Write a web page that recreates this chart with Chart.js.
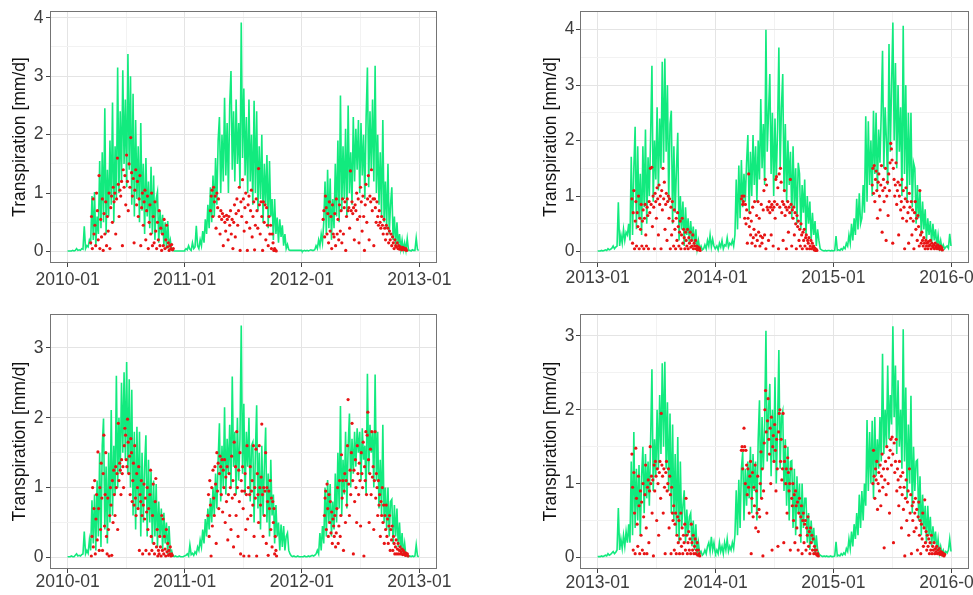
<!DOCTYPE html>
<html>
<head>
<meta charset="utf-8">
<script src="https://cdn.jsdelivr.net/npm/chart.js@4.4.1/dist/chart.umd.min.js"></script>
<style>
  body { margin: 0; background: #fff; }
  #wrap { position: relative; width: 973px; height: 595px; overflow: hidden; background: #fff; }
  canvas { position: absolute; }
</style>
</head>
<body>
<div id="wrap">
  <canvas id="c1" width="486" height="300" style="left:0px;top:0px"></canvas>
  <canvas id="c2" width="487" height="300" style="left:486px;top:0px"></canvas>
  <canvas id="c3" width="486" height="295" style="left:0px;top:300px"></canvas>
  <canvas id="c4" width="487" height="295" style="left:486px;top:300px"></canvas>
</div>
<script>
// x axis: days since 1 Jan of the first year of each panel
var xLabelsA = ['2010-01', '2011-01', '2012-01', '2013-01'];
var xDaysA = [0, 365, 730, 1096];
var xLabelsB = ['2013-01', '2014-01', '2015-01', '2016-01'];
var xDaysB = [0, 365, 730, 1095];

var yMajor1 = [0, 1, 2, 3, 4];
var yMajor2 = [0, 1, 2, 3, 4];
var yMajor3 = [0, 1, 2, 3];
var yMajor4 = [0, 1, 2, 3];

// simulated transpiration (green line), one value every 4 days from 1 Jan of each year
var simStep = 4;
var sim1 = [
  [0.01,0.01,0.01,0.01,0.02,0.01,0.02,0.05,0.02,0.03,0.02,0.05,0.04,0.43,0.05,0.1,0.08,0.2,0.15,0.95,0.2,1.02,0.1,0.6,0.3,1.55,0.4,1.7,0.5,2.45,0.3,1.4,0.6,1.9,0.8,2.55,0.5,1.8,0.9,3.15,1.0,2.4,1.2,3.1,1.5,2.6,1.1,3.38,1.4,3.0,0.8,2.7,0.6,2.25,0.9,1.8,0.5,2.2,0.7,1.5,0.3,1.6,0.6,1.2,0.4,1.45,0.3,1.3,0.2,0.9,1.02,0.15,0.7,0.3,0.63,0.1,0.5,0.05,0.52,0.1,0.2,0.03,0.02,0.01,0.01,0.01,0.01,0.01,0.01,0.01,0.01,0.01],
  [0.02,0.05,0.03,0.1,0.04,0.02,0.15,0.05,0.08,0.44,0.1,0.05,0.2,0.1,0.35,0.15,0.55,0.3,0.8,0.4,1.1,0.5,1.3,0.6,1.6,0.8,1.9,2.3,1.0,2.0,1.2,2.63,1.3,2.2,1.0,2.5,3.09,1.4,2.4,1.2,2.6,1.5,2.2,1.1,3.92,1.6,2.79,1.3,2.3,1.0,2.6,1.2,2.0,0.8,2.58,1.0,2.4,0.7,1.8,0.9,2.0,0.5,1.5,0.8,1.65,0.4,1.55,0.6,0.9,0.2,0.9,0.3,0.58,0.15,0.55,0.25,0.45,0.1,0.3,0.05,0.12,0.03,0.02,0.02,0.02,0.02,0.02,0.02,0.02,0.02,0.02,0.02],
  [0.01,0.01,0.02,0.01,0.02,0.01,0.02,0.03,0.02,0.02,0.03,0.1,0.05,0.2,0.1,0.3,0.15,0.5,1.2,0.3,1.4,0.4,1.25,0.2,0.9,0.4,1.5,0.6,1.9,0.5,2.67,0.7,1.8,0.9,2.1,0.6,2.5,1.0,1.7,0.8,2.3,1.2,2.1,1.4,2.25,1.0,2.2,1.3,2.0,0.9,2.3,3.15,1.1,2.4,1.4,2.6,1.2,3.18,1.0,2.0,0.8,1.7,0.6,2.25,0.5,1.2,0.4,1.5,0.3,0.8,1.1,0.2,0.6,0.1,0.5,0.1,0.3,0.05,0.2,0.03,0.15,0.02,0.22,0.02,0.02,0.01,0.03,0.02,0.02,0.23,0.03,0.02]
];
var sim2 = [
  [0.01,0.01,0.01,0.02,0.01,0.02,0.03,0.02,0.05,0.03,0.04,0.06,0.1,0.05,0.08,0.1,0.89,0.1,0.3,0.15,0.4,0.2,0.35,0.3,0.5,0.2,1.71,0.3,1.5,2.25,0.4,1.9,0.6,1.4,0.3,1.9,0.8,2.2,0.5,1.7,1.0,2.1,3.35,0.9,2.0,1.3,2.6,1.1,2.4,1.5,3.42,1.6,3.48,1.8,3.0,0.9,2.3,2.54,0.5,1.9,0.7,1.5,2.14,0.2,1.0,0.4,0.9,0.1,0.8,0.3,0.6,0.15,0.55,0.2,0.45,0.1,0.4,0.05,0.2,0.05,0.1,0.03,0.05,0.12,0.05,0.2,0.1,0.3,0.08,0.22,0.1,0.05],
  [0.05,0.1,0.03,0.15,0.08,0.2,0.05,0.12,0.1,0.25,0.08,0.15,0.12,0.2,0.1,0.3,1.3,0.4,1.55,0.6,1.65,0.8,1.4,0.9,1.6,2.1,0.7,1.8,1.0,2.1,1.2,1.9,0.9,2.0,1.3,2.75,1.5,2.3,1.2,4.0,1.8,2.5,3.2,1.4,2.5,1.0,2.4,1.3,2.2,3.68,1.5,2.6,3.2,1.1,2.3,0.9,2.0,1.2,1.8,0.6,1.9,0.8,1.5,0.5,1.6,1.4,0.4,1.2,0.7,1.3,0.3,1.0,0.5,0.9,0.2,0.7,0.3,0.55,0.1,0.4,0.2,0.05,0.03,0.02,0.01,0.02,0.01,0.02,0.02,0.01,0.02,0.01],
  [0.01,0.02,0.28,0.02,0.03,0.02,0.05,0.03,0.08,0.05,0.15,0.1,0.3,0.15,0.5,0.2,0.6,0.3,0.95,0.4,1.05,0.5,0.6,1.2,0.7,2.44,0.9,2.35,1.2,2.0,1.0,2.54,1.4,2.5,1.1,2.2,1.6,2.5,3.62,1.5,2.6,2.0,1.2,3.74,1.8,3.0,4.13,2.0,3.4,1.5,3.0,1.8,2.6,1.0,4.07,1.4,3.0,0.9,2.5,1.2,2.5,0.8,1.6,1.5,0.5,1.2,0.6,1.08,0.3,0.9,0.4,0.76,0.2,0.6,0.3,0.55,0.15,0.5,0.2,0.4,0.1,0.3,0.08,0.2,0.05,0.12,0.05,0.08,0.1,0.06,0.32,0.1]
];
var sim3 = [
  [0.01,0.01,0.01,0.02,0.01,0.01,0.03,0.05,0.02,0.03,0.02,0.04,0.05,0.37,0.05,0.1,0.06,0.25,0.1,0.82,0.2,0.9,0.1,1.1,0.3,1.5,0.15,1.6,1.99,0.4,1.3,0.2,1.5,0.5,2.11,0.6,1.6,0.9,2.6,1.0,2.0,1.2,2.5,1.5,2.65,1.4,2.8,1.2,2.55,1.0,2.4,0.6,1.8,0.4,1.87,0.7,1.8,0.3,1.5,0.5,1.3,1.75,0.3,1.4,0.5,1.23,0.2,1.1,0.3,1.05,0.15,0.8,0.3,0.7,0.1,0.64,0.2,0.5,0.05,0.45,0.08,0.1,0.02,0.01,0.02,0.01,0.01,0.02,0.01,0.01,0.01,0.02],
  [0.02,0.03,0.05,0.02,0.18,0.04,0.06,0.03,0.08,0.05,0.15,0.1,0.25,0.15,0.4,0.2,0.55,0.3,0.7,0.4,0.85,0.5,1.0,0.6,1.2,0.7,1.4,1.92,0.8,1.6,1.0,2.15,0.9,1.7,1.2,1.9,1.0,2.59,1.3,1.8,0.9,2.0,1.1,1.7,3.32,1.2,2.2,0.9,1.8,1.3,2.0,0.8,1.6,1.65,0.5,1.5,2.18,0.7,1.5,0.4,1.6,0.6,1.3,1.86,0.5,1.2,0.3,1.4,0.6,0.9,0.2,0.75,0.3,0.5,0.1,0.47,0.15,0.45,0.1,0.3,0.35,0.1,0.05,0.02,0.01,0.02,0.01,0.01,0.02,0.01,0.01,0.01],
  [0.01,0.01,0.02,0.01,0.01,0.02,0.01,0.02,0.03,0.02,0.03,0.05,0.1,0.05,0.35,0.1,0.45,0.2,1.0,0.3,1.11,0.5,1.05,0.3,0.8,0.4,1.2,0.5,1.5,0.7,2.17,0.6,1.4,0.9,1.8,0.7,1.6,2.06,1.0,1.7,1.2,1.8,1.3,1.85,1.5,1.8,1.1,1.85,1.4,1.6,0.9,2.63,1.2,1.9,1.5,1.8,1.0,2.62,1.1,1.8,0.7,1.4,0.6,1.9,0.5,1.0,0.4,1.0,0.3,0.8,0.83,0.2,0.75,0.3,0.7,0.15,0.5,0.1,0.35,0.05,0.2,0.02,0.02,0.01,0.02,0.01,0.02,0.01,0.02,0.18,0.02,0.01]
];
var sim4 = [
  [0.01,0.01,0.01,0.02,0.01,0.02,0.03,0.02,0.05,0.03,0.04,0.06,0.08,0.05,0.07,0.1,0.67,0.1,0.25,0.12,0.3,0.15,0.35,0.2,0.45,0.2,1.3,0.3,1.7,0.4,1.2,0.5,1.25,0.3,1.1,1.5,0.6,1.4,0.8,1.3,0.7,1.6,2.55,0.9,1.6,1.1,2.0,1.2,2.2,1.4,2.63,1.5,2.65,1.2,2.1,0.9,1.95,0.6,1.8,0.5,1.4,0.3,1.63,0.2,1.3,0.4,0.7,0.91,0.2,0.65,0.3,0.55,0.6,0.15,0.5,0.1,0.45,0.05,0.2,0.05,0.08,0.03,0.05,0.1,0.05,0.15,0.2,0.08,0.28,0.1,0.2,0.06],
  [0.05,0.1,0.05,0.2,0.08,0.15,0.05,0.2,0.1,0.25,0.08,0.15,0.1,0.2,0.12,0.3,0.91,0.3,1.05,0.4,1.2,1.43,0.5,1.2,0.7,1.3,0.8,1.5,0.6,1.4,0.9,1.3,0.5,1.6,2.13,0.8,1.9,1.2,1.8,3.07,1.3,2.0,2.35,1.1,2.0,1.3,2.44,1.0,1.8,2.81,1.2,1.9,1.98,0.9,1.6,0.7,1.5,0.5,1.3,1.31,0.4,1.2,0.3,1.1,0.6,1.0,0.2,1.0,0.4,0.8,0.8,0.2,0.6,0.1,0.5,0.2,0.4,0.05,0.3,0.1,0.05,0.03,0.02,0.01,0.02,0.01,0.02,0.01,0.01,0.02,0.01,0.01],
  [0.01,0.02,0.21,0.02,0.03,0.02,0.05,0.03,0.06,0.04,0.12,0.08,0.25,0.12,0.35,0.15,0.45,0.25,0.6,0.3,0.85,0.4,0.9,0.5,1.0,0.7,1.86,0.9,1.7,1.0,1.85,0.8,1.9,1.1,1.6,1.2,1.9,1.3,2.76,1.4,2.0,1.5,2.6,1.6,2.2,1.8,3.13,1.9,2.6,1.4,2.4,1.5,2.0,1.2,3.09,1.3,2.3,0.8,1.8,1.0,2.19,0.6,1.5,0.9,1.3,1.32,0.5,1.1,0.3,0.85,0.4,0.7,0.2,0.7,0.3,0.55,0.15,0.42,0.2,0.35,0.1,0.25,0.06,0.15,0.05,0.1,0.04,0.08,0.06,0.1,0.25,0.08]
];

// measured transpiration (red points): first day of year, spacing in days, values
var obs1 = [
  { start: 72, step: 2.6, v: [0.15,0.6,0.05,0.9,0.3,0.45,0.1,1.0,0.7,0.2,1.3,0.05,0.55,0.25,0.9,0.02,0.65,0.3,0.85,0.1,0.6,0.35,1.0,0.05,0.75,0.95,0.5,1.1,0.85,1.0,0.3,0.9,1.6,1.15,0.6,1.05,0.95,1.2,0.1,1.4,1.1,1.3,0.8,1.65,1.2,0.7,1.5,1.1,1.95,1.35,0.95,1.25,0.15,1.05,1.4,0.8,1.2,0.6,0.9,1.3,0.1,0.75,1.0,0.45,0.85,1.05,0.2,0.7,0.95,0.05,0.5,0.8,0.3,1.0,0.1,0.6,0.15,0.85,0.35,0.05,0.5,0.2,0.7,0.1,0.4,0.02,0.3,0.1,0.55,0.05,0.2,0.45,0.08,0.15,0.02,0.1,0.05,0.12,0.03,0.05] },
  { start: 80, step: 2.5, v: [0.7,0.95,1.05,0.6,1.1,0.85,0.95,0.4,1.0,0.75,0.9,0.6,0.3,0.7,0.55,0.65,0.1,0.6,0.5,0.35,0.62,0.55,0.2,0.6,0.45,0.7,0.3,0.55,0.05,0.5,0.8,0.25,0.65,0.9,0.45,0.7,1.1,0.02,0.85,0.6,1.23,0.9,0.35,0.75,1.0,0.5,0.02,0.8,0.95,0.4,0.7,1.05,0.25,0.6,0.85,0.03,0.45,0.9,0.7,0.4,1.42,0.8,0.3,0.85,0.6,0.02,0.85,0.5,0.8,0.2,0.75,0.45,0.1,0.6,0.3,0.45,0.05,0.3,0.15,0.02,0.05,0.02,0.01] },
  { start: 66, step: 2.43, v: [0.55,0.7,0.25,0.95,0.75,0.3,0.65,0.15,0.85,0.35,0.6,0.05,0.8,0.3,0.25,0.65,0.1,0.9,0.3,0.55,0.2,0.8,0.35,0.7,0.15,0.9,0.3,0.75,0.85,0.02,0.6,0.9,0.7,0.75,0.4,1.38,0.7,0.85,0.65,0.75,0.2,0.8,0.7,1.0,0.55,0.9,0.15,0.6,1.1,0.85,0.35,0.95,0.6,0.02,0.8,1.15,0.5,0.9,1.3,0.2,0.95,0.85,1.4,0.7,0.9,0.1,0.9,0.75,0.5,0.85,0.6,0.45,0.7,0.5,0.4,0.6,0.45,0.3,0.55,0.4,0.2,0.45,0.3,0.4,0.15,0.35,0.2,0.3,0.1,0.25,0.15,0.05,0.2,0.1,0.08,0.15,0.05,0.1,0.04,0.08,0.05,0.03,0.07,0.04,0.06,0.03,0.05,0.02] }
];
var obs2 = [
  { start: 106, step: 2.05, v: [0.95,0.15,0.7,1.1,0.05,0.55,0.9,0.1,0.7,0.45,1.0,0.05,0.6,0.4,0.85,0.1,0.55,0.75,0.05,0.6,0.85,0.3,0.1,0.8,0.65,0.05,0.9,0.7,1.5,0.85,1.52,0.45,1.0,0.8,0.05,1.05,0.9,0.6,1.15,0.95,0.3,1.2,0.85,1.0,0.05,1.1,0.75,1.5,0.95,1.25,0.4,0.85,1.05,0.2,0.9,1.0,0.6,0.95,0.05,0.8,0.3,0.9,0.55,0.1,0.75,0.4,0.05,0.6,0.2,0.7,0.45,0.1,0.35,0.55,0.05,0.3,0.6,0.15,0.4,0.25,0.05,0.35,0.2,0.1,0.4,0.05,0.25,0.15,0.35,0.08,0.2,0.1,0.3,0.05,0.15,0.1,0.2,0.05,0.1,0.03,0.08,0.04,0.06,0.02] },
  { start: 80, step: 2.05, v: [0.95,1.0,0.85,0.9,1.0,0.6,0.85,0.5,0.75,0.15,0.6,1.4,0.45,0.7,0.3,0.55,0.15,0.8,0.25,0.4,0.9,0.1,0.3,0.65,0.2,0.9,0.35,0.6,0.1,0.28,0.85,0.15,0.25,0.75,1.1,0.3,1.3,0.05,1.2,0.8,0.75,0.2,0.9,0.7,0.8,0.3,0.85,0.75,0.1,0.8,0.9,0.6,1.3,1.35,0.85,1.15,0.05,1.4,0.8,1.5,1.25,0.7,0.9,0.2,0.85,1.1,0.65,0.8,0.05,0.75,0.9,0.35,0.8,0.7,1.3,0.85,0.1,0.75,0.6,0.8,0.3,0.7,0.5,0.05,0.65,0.45,0.55,0.2,0.4,0.1,0.5,0.3,0.05,0.35,0.2,0.4,0.1,0.25,0.3,0.05,0.2,0.15,0.25,0.05,0.1,0.2,0.05,0.15,0.08,0.1,0.03,0.06,0.02,0.04,0.02] },
  { start: 120, step: 2.05, v: [1.2,1.5,1.05,1.55,0.9,1.3,1.45,1.1,0.6,1.25,1.4,1.0,0.75,1.2,1.55,0.35,1.1,1.3,0.9,1.15,1.5,0.2,1.0,1.25,0.65,1.4,1.1,1.6,1.95,1.85,1.65,0.15,1.5,1.3,1.0,1.2,1.6,0.85,1.1,1.25,0.3,1.0,1.2,0.75,0.9,1.3,0.6,1.1,0.8,0.05,0.95,1.15,0.55,0.9,0.7,0.15,1.05,0.8,0.6,0.9,0.3,0.75,0.55,0.05,0.7,0.9,0.4,0.6,0.2,0.65,0.45,0.1,1.1,0.3,0.15,0.35,0.2,0.1,0.25,0.15,0.05,0.2,0.1,0.15,0.05,0.18,0.1,0.12,0.2,0.05,0.15,0.1,0.08,0.12,0.05,0.15,0.08,0.1,0.05,0.12,0.06,0.09,0.04,0.1,0.05,0.07,0.03] }
];
var obs3 = [
  { start: 74, step: 2.05, v: [0.02,0.3,1.0,0.15,0.7,1.1,0.05,0.55,0.9,0.25,1.51,0.7,0.1,1.0,0.4,1.35,0.85,0.1,1.2,1.75,0.45,0.9,1.5,0.3,0.05,0.85,0.4,0.02,0.6,1.0,0.75,0.03,1.1,0.5,1.25,0.9,0.6,1.3,1.0,1.2,0.4,1.92,1.1,1.35,1.25,0.9,1.4,1.2,1.3,1.0,1.6,1.85,1.75,1.4,1.3,1.98,1.65,1.2,1.45,0.9,1.7,1.5,0.8,1.1,1.35,0.75,1.6,0.85,0.6,1.2,1.0,0.7,1.3,0.1,0.9,0.8,1.1,0.6,0.05,0.75,1.05,0.55,0.85,0.1,0.65,1.0,0.4,0.7,0.05,0.9,1.25,0.3,0.1,0.6,1.05,0.2,0.05,0.8,1.13,0.15,0.4,0.02,0.1,0.05,0.3,0.15,0.02,0.6,0.1,0.55,0.05,0.3,0.12,0.02,0.4,0.08,0.2,0.03,0.1,0.05,0.15,0.02,0.05,0.03] },
  { start: 72, step: 2, v: [0.6,0.9,0.3,1.1,0.75,0.02,1.0,0.45,1.25,0.85,0.6,1.3,1.05,0.2,1.5,0.95,1.35,0.7,1.2,1.45,1.3,0.9,1.4,0.65,1.25,1.0,1.4,0.5,1.15,0.8,1.3,0.25,0.9,1.2,0.6,1.0,0.4,1.45,0.85,1.1,0.15,1.65,0.9,1.3,0.6,1.8,1.0,0.3,1.25,0.8,1.5,0.05,1.1,0.95,1.3,0.7,0.02,0.95,1.2,0.4,0.9,1.6,0.55,1.0,0.02,0.9,1.3,0.6,0.95,1.1,0.75,1.6,0.3,1.0,0.85,1.55,0.02,1.2,0.9,0.5,1.6,1.0,0.75,1.15,1.91,0.9,0.3,1.0,0.6,0.95,1.5,0.2,1.0,0.8,0.03,0.95,0.7,1.1,0.4,0.85,0.15,0.8,0.5,0.7,0.05,0.3,0.1,0.02] },
  { start: 70, step: 2.05, v: [0.6,0.85,0.95,0.4,1.05,0.7,0.3,0.9,0.5,0.8,0.35,0.65,0.2,0.55,0.45,0.3,0.6,0.15,0.35,0.7,1.0,0.2,0.45,1.1,0.3,0.6,1.47,0.85,1.1,0.1,0.95,1.2,0.5,1.1,0.75,1.6,2.26,1.05,0.6,1.25,0.9,1.5,1.92,1.1,0.05,1.25,0.8,1.4,1.0,0.5,1.6,1.2,0.9,1.35,1.1,0.45,1.5,1.2,1.0,1.65,0.02,1.3,1.1,1.8,0.9,1.75,2.08,1.4,0.5,1.2,1.55,0.9,1.8,1.15,1.3,0.4,1.1,1.8,0.85,1.2,1.0,0.6,1.1,0.75,0.9,0.3,0.8,0.6,1.0,0.5,0.75,0.2,0.6,0.4,0.75,0.3,0.55,0.2,0.45,0.6,0.1,0.4,0.25,0.45,0.1,0.3,0.2,0.05,0.15,0.25,0.05,0.12,0.2,0.05,0.1,0.15,0.05,0.08,0.12,0.04,0.1,0.05,0.07,0.03,0.06,0.04,0.05,0.02] }
];
var obs4 = [
  { start: 106, step: 2.02, v: [1.4,0.95,0.1,1.15,0.6,0.05,1.48,0.8,0.45,0.15,1.1,0.7,0.05,0.9,0.3,0.75,0.1,1.0,0.55,0.05,0.85,1.25,0.4,0.05,0.95,1.05,0.2,0.9,1.5,1.0,1.1,0.6,1.05,0.02,1.25,0.9,1.3,1.1,0.5,1.2,1.0,0.3,1.15,1.3,0.8,1.95,1.25,1.1,0.6,1.2,0.95,0.05,1.15,1.3,0.9,1.0,1.2,0.4,1.1,0.85,0.05,0.95,0.6,0.5,0.7,0.1,0.45,0.6,0.05,0.3,0.55,0.2,0.5,0.05,0.25,0.6,0.15,0.4,0.05,0.3,0.2,0.45,0.1,0.8,0.3,0.05,0.2,0.35,0.1,0.25,0.05,0.45,0.2,0.1,0.3,0.05,0.15,0.25,0.05,0.1,0.2,0.03,0.1,0.05,0.02] },
  { start: 80, step: 2.02, v: [1.45,1.5,1.2,1.45,1.75,1.5,1.0,1.45,1.25,0.85,1.2,0.95,0.6,1.1,1.3,0.05,0.8,1.15,0.55,0.95,0.7,1.25,0.4,0.9,0.6,1.1,0.35,0.65,0.55,1.0,1.43,0.8,1.2,0.02,0.9,1.55,2.0,2.26,1.7,0.6,1.85,2.15,1.6,1.4,1.75,1.0,1.9,0.1,1.5,1.65,1.3,1.8,1.45,0.9,1.6,1.2,0.15,1.7,1.95,2.0,1.3,1.6,1.05,1.2,1.95,0.2,1.3,1.5,1.0,1.2,0.6,1.35,1.15,0.9,1.0,0.1,1.2,0.8,0.7,1.0,0.5,0.85,0.2,0.9,0.7,0.4,0.75,0.1,0.6,0.8,0.3,0.55,0.7,0.05,0.5,0.6,0.2,0.45,0.5,0.1,0.4,0.3,0.55,0.15,0.35,0.05,0.4,0.2,0.3,0.1,0.25,0.05,0.15,0.1,0.05,0.1,0.03,0.05,0.02] },
  { start: 122, step: 2.06, v: [1.0,1.45,1.1,0.8,1.2,1.05,1.3,0.65,1.0,1.15,0.9,1.25,0.7,1.1,1.4,0.95,1.2,0.13,1.05,1.3,0.85,1.5,1.2,1.0,1.35,0.6,1.45,1.6,1.25,1.63,1.4,0.2,1.55,1.15,1.3,1.6,0.9,1.2,1.05,0.7,1.3,0.95,1.1,0.4,0.85,1.15,0.65,0.95,0.02,0.8,1.05,0.5,0.75,0.9,0.3,1.2,0.6,0.85,0.05,0.7,0.5,0.75,0.35,0.6,0.8,0.4,0.65,0.1,0.55,0.75,0.3,0.5,0.05,0.45,0.25,0.6,0.15,0.4,0.78,0.2,0.35,0.1,0.3,0.15,0.25,0.05,0.2,0.1,0.3,0.05,0.15,0.1,0.2,0.05,0.12,0.08,0.15,0.05,0.1,0.06,0.12,0.04,0.08,0.05,0.07,0.03,0.05,0.02,0.04] }
];

var FONT = "'Liberation Sans', Arial, Helvetica, sans-serif";

function simPoints(sim, days) {
  var pts = [];
  sim.forEach(function (vals, y) {
    vals.forEach(function (v, i) { pts.push({ x: days[y] + i * simStep, y: v }); });
  });
  return pts;
}

function obsPoints(obs, days) {
  var pts = [];
  obs.forEach(function (o, y) {
    o.v.forEach(function (v, i) { pts.push({ x: days[y] + o.start + i * o.step, y: v }); });
  });
  return pts;
}

// major breaks plus ggplot style minor breaks halfway between them
function withMinor(major) {
  var out = [];
  for (var i = 0; i < major.length; i++) {
    out.push(major[i]);
    if (i < major.length - 1) out.push((major[i] + major[i + 1]) / 2);
  }
  return out;
}

var framePlugin = {
  id: 'frame',
  afterDraw: function (chart) {
    var a = chart.chartArea, ctx = chart.ctx;
    ctx.save();
    ctx.strokeStyle = '#747474';
    ctx.lineWidth = 1;
    ctx.strokeRect(Math.round(a.left) + 0.5, Math.round(a.top) + 0.5,
      Math.round(a.right - a.left) - 1, Math.round(a.bottom - a.top) - 1);
    ctx.restore();
  }
};

function gridOpts(major) {
  return {
    color: function (c) { return c.tick && major.indexOf(c.tick.value) >= 0 ? '#e4e4e4' : '#f2f2f2'; },
    lineWidth: 1,
    tickColor: function (c) { return c.tick && major.indexOf(c.tick.value) >= 0 ? '#444' : 'rgba(0,0,0,0)'; },
    tickWidth: 1,
    tickLength: 4,
    drawTicks: true
  };
}

function makePanel(p) {
  var xTicks = withMinor(p.xDays);
  var yTicks = withMinor(p.yMajor);
  new Chart(document.getElementById(p.id), {
    type: 'scatter',
    data: {
      datasets: [
        {
          label: 'measured',
          data: obsPoints(p.obs, p.xDays),
          pointRadius: 1.6,
          pointBackgroundColor: 'rgb(232,20,20)',
          pointBorderWidth: 0,
          showLine: false
        },
        {
          label: 'simulated',
          data: simPoints(p.sim, p.xDays),
          showLine: true,
          borderColor: '#12EA7E',
          borderWidth: 1.6,
          pointRadius: 0,
          pointHitRadius: 0,
          tension: 0
        }
      ]
    },
    options: {
      responsive: false,
      animation: false,
      devicePixelRatio: 1,
      events: [],
      layout: { padding: { left: 0, top: p.padTop, right: p.padRight, bottom: 0 } },
      plugins: { legend: { display: false }, tooltip: { enabled: false } },
      scales: {
        x: {
          type: 'linear',
          min: p.xMin,
          max: p.xMax,
          border: { display: false },
          grid: gridOpts(p.xDays),
          afterBuildTicks: function (s) { s.ticks = xTicks.map(function (v) { return { value: v }; }); },
          afterFit: function (s) { s.height = p.xHeight; s.paddingLeft = 0; s.paddingRight = 0; },
          ticks: {
            autoSkip: false, maxRotation: 0, minRotation: 0,
            padding: p.xPad,
            color: '#3d3d3d',
            font: { family: FONT, size: 17.5 },
            callback: function (v) { var k = p.xDays.indexOf(v); return k >= 0 ? p.xLabels[k] : ''; }
          }
        },
        y: {
          type: 'linear',
          min: p.yMin,
          max: p.yMax,
          border: { display: false },
          grid: gridOpts(p.yMajor),
          afterBuildTicks: function (s) { s.ticks = yTicks.map(function (v) { return { value: v }; }); },
          afterFit: function (s) { s.width = p.yWidth; s.paddingTop = 0; s.paddingBottom = 0; },
          title: {
            display: true,
            text: 'Transpiration [mm/d]',
            color: '#111',
            font: { family: FONT, size: 17.5 },
            padding: { top: p.titlePad, bottom: 0 }
          },
          ticks: {
            autoSkip: false,
            padding: p.yPad,
            color: '#3d3d3d',
            font: { family: FONT, size: 17.5 },
            callback: function (v) { return p.yMajor.indexOf(v) >= 0 ? String(v) : ''; }
          }
        }
      }
    },
    plugins: [framePlugin]
  });
}

makePanel({ id: 'c1', xLabels: xLabelsA, xDays: xDaysA, xMin: -54.75, xMax: 1150.75, sim: sim1, obs: obs1,
  yMajor: yMajor1, yMin: -0.196, yMax: 4.116,
  padTop: 11, padRight: 49, yWidth: 50, xHeight: 37, titlePad: 9.5, yPad: 2.5, xPad: 3 });
makePanel({ id: 'c2', xLabels: xLabelsB, xDays: xDaysB, xMin: -54.7, xMax: 1149.7, sim: sim2, obs: obs2,
  yMajor: yMajor2, yMin: -0.2065, yMax: 4.3365,
  padTop: 11, padRight: 4, yWidth: 94, xHeight: 37, titlePad: 54.3, yPad: 1.5, xPad: 1 });
makePanel({ id: 'c3', xLabels: xLabelsA, xDays: xDaysA, xMin: -54.75, xMax: 1150.75, sim: sim3, obs: obs3,
  yMajor: yMajor3, yMin: -0.166, yMax: 3.486,
  padTop: 14, padRight: 49, yWidth: 50, xHeight: 26, titlePad: 10, yPad: 2.5, xPad: -1 });
makePanel({ id: 'c4', xLabels: xLabelsB, xDays: xDaysB, xMin: -54.7, xMax: 1149.7, sim: sim4, obs: obs4,
  yMajor: yMajor4, yMin: -0.157, yMax: 3.297,
  padTop: 14, padRight: 4, yWidth: 94, xHeight: 26, titlePad: 54.3, yPad: 1.5, xPad: -0.5 });
</script>
</body>
</html>
